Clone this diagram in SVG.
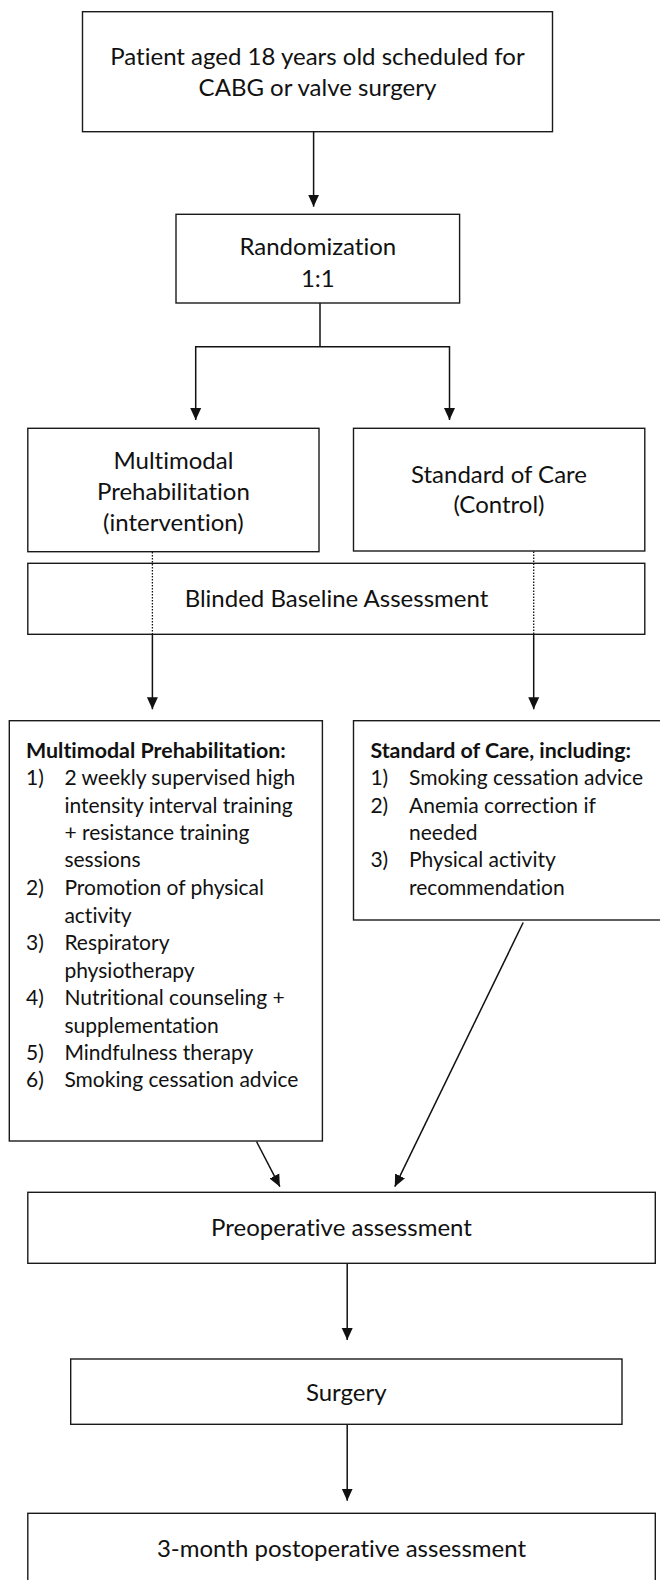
<svg xmlns="http://www.w3.org/2000/svg" width="660" height="1580" viewBox="0 0 660 1580">
<defs>
<style>
.box{fill:#fff;stroke:#1a1a1a;stroke-width:1.4}
.t{font-family:Lato,"Liberation Sans",sans-serif;font-size:24px;fill:#111;font-variant-ligatures:none}
.s{font-size:21px}
.c{text-anchor:middle}
.b{font-weight:bold;font-size:21.4px}
.ln{stroke:#111;stroke-width:1.5;fill:none}
.dot{stroke:#111;stroke-width:1.3;stroke-dasharray:1.5 1.5;fill:none}
</style>
<marker id="ah" viewBox="0 0 12 12" refX="12" refY="6" markerWidth="12" markerHeight="12" orient="auto" markerUnits="userSpaceOnUse">
<path d="M0,0.5 L12,6 L0,11.5 z" fill="#111"/>
</marker>
</defs>
<rect width="660" height="1580" fill="#fff"/>

<g id="connectors">
<line class="ln" x1="313.6" y1="131.7" x2="313.6" y2="206.7" marker-end="url(#ah)"/>
<line class="ln" x1="320" y1="303" x2="320" y2="346.7"/>
<line class="ln" x1="195.7" y1="346.7" x2="449.5" y2="346.7"/>
<line class="ln" x1="195.7" y1="346" x2="195.7" y2="420" marker-end="url(#ah)"/>
<line class="ln" x1="449.5" y1="346" x2="449.5" y2="420" marker-end="url(#ah)"/>
<line class="ln" x1="152.4" y1="634.3" x2="152.4" y2="709.3" marker-end="url(#ah)"/>
<line class="ln" x1="533.7" y1="634.3" x2="533.7" y2="709.3" marker-end="url(#ah)"/>
<line class="ln" x1="256.5" y1="1141.5" x2="279.9" y2="1186.7" marker-end="url(#ah)"/>
<line class="ln" x1="523.2" y1="922.5" x2="394.8" y2="1186.7" marker-end="url(#ah)"/>
<line class="ln" x1="347.2" y1="1263.3" x2="347.2" y2="1340" marker-end="url(#ah)"/>
<line class="ln" x1="347.2" y1="1424.3" x2="347.2" y2="1500.7" marker-end="url(#ah)"/>
</g>

<g id="n-patient">
<rect class="box" x="82.5" y="11.7" width="470" height="120"/>
<text class="t c" x="317.5" y="65">Patient aged 18 years old scheduled for</text>
<text class="t c" x="317.5" y="95.7">CABG or valve surgery</text>
</g>

<g id="n-random">
<rect class="box" x="176" y="214.3" width="283.6" height="88.7"/>
<text class="t c" x="317.8" y="255">Randomization</text>
<text class="t c" x="317.8" y="286.7">1:1</text>
</g>

<g id="n-interv">
<rect class="box" x="27.8" y="428.3" width="291.2" height="123.4"/>
<text class="t c" x="173.4" y="469.3">Multimodal</text>
<text class="t c" x="173.4" y="500.3">Prehabilitation</text>
<text class="t c" x="173.4" y="530.7">(intervention)</text>
</g>

<g id="n-control">
<rect class="box" x="353.5" y="428.3" width="291.3" height="122.7"/>
<text class="t c" x="499" y="482.7">Standard of Care</text>
<text class="t c" x="499" y="513">(Control)</text>
</g>

<g id="n-baseline">
<rect class="box" x="27.8" y="563.3" width="617" height="71"/>
<text class="t c" x="336.5" y="606.7">Blinded Baseline Assessment</text>
</g>

<g id="dotted">
<line class="dot" x1="152.4" y1="552" x2="152.4" y2="634.3"/>
<line class="dot" x1="533.7" y1="551.5" x2="533.7" y2="634.3"/>
</g>

<g id="n-prehab-list">
<rect class="box" x="9.3" y="720.7" width="313.1" height="420.3"/>
<text class="t b" x="26" y="758.3">Multimodal Prehabilitation:</text>
<text class="t s" x="26" y="785">1)</text>
<text class="t s" x="64.4" y="785">2 weekly supervised high</text>
<text class="t s" x="64.4" y="812.7">intensity interval training</text>
<text class="t s" x="64.4" y="840">+ resistance training</text>
<text class="t s" x="64.4" y="866.7">sessions</text>
<text class="t s" x="26" y="895">2)</text>
<text class="t s" x="64.4" y="895">Promotion of physical</text>
<text class="t s" x="64.4" y="922.7">activity</text>
<text class="t s" x="26" y="950">3)</text>
<text class="t s" x="64.4" y="950">Respiratory</text>
<text class="t s" x="64.4" y="977.7">physiotherapy</text>
<text class="t s" x="26" y="1005">4)</text>
<text class="t s" x="64.4" y="1005">Nutritional counseling +</text>
<text class="t s" x="64.4" y="1032.7">supplementation</text>
<text class="t s" x="26" y="1060">5)</text>
<text class="t s" x="64.4" y="1060">Mindfulness therapy</text>
<text class="t s" x="26" y="1086.7">6)</text>
<text class="t s" x="64.4" y="1086.7">Smoking cessation advice</text>
</g>

<g id="n-soc-list">
<rect class="box" x="353.5" y="720.7" width="310" height="199.3"/>
<text class="t b" x="370.4" y="758.3">Standard of Care, including:</text>
<text class="t s" x="370.4" y="785">1)</text>
<text class="t s" x="409" y="785">Smoking cessation advice</text>
<text class="t s" x="370.4" y="812.7">2)</text>
<text class="t s" x="409" y="812.7">Anemia correction if</text>
<text class="t s" x="409" y="840">needed</text>
<text class="t s" x="370.4" y="866.7">3)</text>
<text class="t s" x="409" y="866.7">Physical activity</text>
<text class="t s" x="409" y="895">recommendation</text>
</g>

<g id="n-preop">
<rect class="box" x="27.8" y="1192.3" width="627.5" height="71"/>
<text class="t c" x="341.5" y="1236">Preoperative assessment</text>
</g>

<g id="n-surgery">
<rect class="box" x="70.7" y="1359" width="551.3" height="65.3"/>
<text class="t c" x="346.3" y="1400.7">Surgery</text>
</g>

<g id="n-post">
<rect class="box" x="27.8" y="1513.3" width="627.5" height="90"/>
<text class="t c" x="341.5" y="1557.3">3-month postoperative assessment</text>
</g>
</svg>
